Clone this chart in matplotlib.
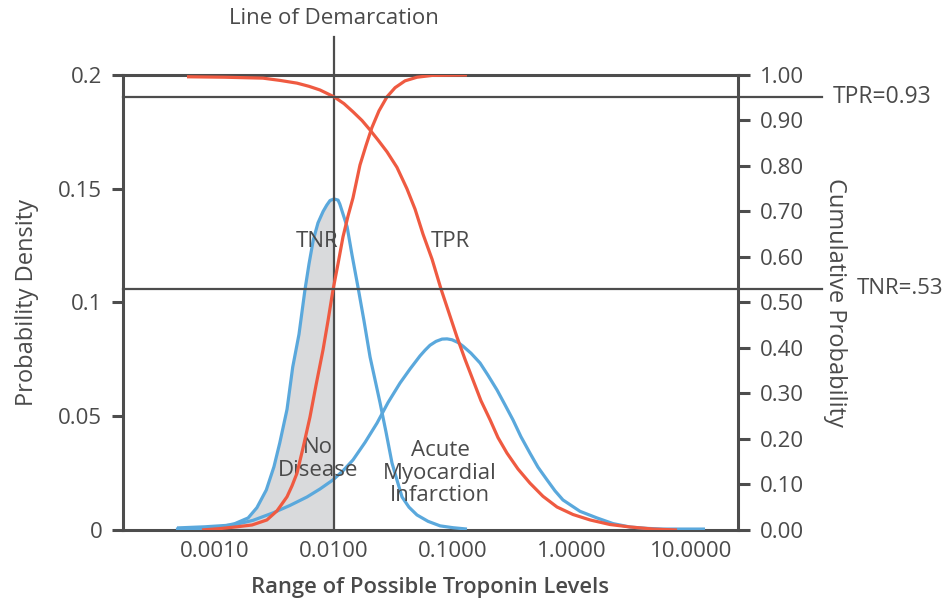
import matplotlib
matplotlib.use('Agg')
import numpy as np
import matplotlib.pyplot as plt
from matplotlib.ticker import FixedLocator, NullLocator

plt.rcParams['font.family'] = ['Open Sans', 'DejaVu Sans']

# --- Dados ---
# Densidade "No Disease" (eixo esquerdo)
trop_sem_doenca = [0.00047, 0.0008, 0.0011, 0.00147, 0.0019, 0.00225, 0.0027, 0.00313,
                   0.0035, 0.00403, 0.0045, 0.00508, 0.0057, 0.00617, 0.0067, 0.00734,
                   0.0081, 0.0087, 0.00926, 0.0100, 0.01081, 0.0112, 0.0129, 0.01416,
                   0.0159, 0.01786, 0.0201, 0.02213, 0.0244, 0.02737, 0.0307, 0.0338,
                   0.0373, 0.0427, 0.0498, 0.0617, 0.078, 0.100, 0.131]
dens_sem_doenca = [0.0004, 0.0007, 0.0013, 0.0028, 0.0053, 0.0098, 0.0176, 0.0278,
                   0.0382, 0.0530, 0.0716, 0.0860, 0.1055, 0.1170, 0.1275, 0.1350,
                   0.1400, 0.1428, 0.1448, 0.1455, 0.1450, 0.1432, 0.1332, 0.1210,
                   0.1068, 0.0920, 0.0760, 0.0660, 0.0558, 0.0430, 0.0295, 0.0220,
                   0.0145, 0.0100, 0.0066, 0.0038, 0.0018, 0.0010, 0.0004]

# Densidade "Acute Myocardial Infarction" (eixo esquerdo)
trop_iam = [0.00048, 0.000824, 0.00142, 0.00208, 0.00307, 0.00427, 0.00593, 0.00762,
            0.0098, 0.0119, 0.01445, 0.01824, 0.0230, 0.02844, 0.0359, 0.0436, 0.0528,
            0.0582, 0.0641, 0.0720, 0.0809, 0.0891, 0.0982, 0.1102, 0.1213, 0.1416,
            0.1687, 0.1968, 0.2345, 0.2735, 0.319, 0.3722, 0.443, 0.5176, 0.617, 0.7196,
            0.839, 1.167, 1.62, 2.211, 3.07, 4.27, 5.82, 13.1]
dens_iam = [0.0009, 0.0014, 0.0022, 0.0042, 0.0075, 0.0108, 0.0145, 0.0180,
            0.0220, 0.0260, 0.0308, 0.0385, 0.0470, 0.0560, 0.0646, 0.0708, 0.0765,
            0.0790, 0.0812, 0.0829, 0.0839, 0.0840, 0.0836, 0.0824, 0.0808, 0.0777,
            0.0734, 0.0680, 0.0615, 0.0550, 0.0484, 0.0410, 0.0338, 0.0276, 0.0220, 0.0172,
            0.0132, 0.0082, 0.0053, 0.0028, 0.0013, 0.0007, 0.0004, 0.0004]

# Probabilidade acumulada TNR (eixo direito)
trop_tnr = [0.000778, 0.0011, 0.00153, 0.00205, 0.00273, 0.00332, 0.00403, 0.00444,
            0.00489, 0.00549, 0.00628, 0.00706, 0.00809, 0.00891, 0.0098, 0.01081,
            0.0119, 0.01312, 0.01445, 0.01653, 0.01858, 0.0208, 0.02387, 0.0279,
            0.0326, 0.0395, 0.0498, 0.0667, 0.131]
cum_tnr = [0.000, 0.003, 0.007, 0.011, 0.022, 0.042, 0.073, 0.097,
           0.125, 0.180, 0.248, 0.318, 0.396, 0.460, 0.527, 0.585,
           0.644, 0.690, 0.730, 0.802, 0.845, 0.884, 0.921, 0.952,
           0.972, 0.987, 0.995, 0.999, 1.000]

# Probabilidade acumulada TPR (eixo direito)
trop_tpr = [0.000582, 0.00121, 0.00253, 0.00352, 0.00489, 0.00617, 0.00762, 0.0100,
            0.01213, 0.01445, 0.01718, 0.0201, 0.02344, 0.0279, 0.0338, 0.0410,
            0.0480, 0.0560, 0.0667, 0.0792, 0.0925, 0.108, 0.1262, 0.147, 0.1718,
            0.205, 0.2388, 0.284, 0.3516, 0.443, 0.570, 0.748, 1.019, 1.42, 2.085,
            3.07, 4.80, 7.63]
cum_tpr = [0.996, 0.995, 0.993, 0.988, 0.982, 0.975, 0.967, 0.952,
           0.937, 0.919, 0.900, 0.879, 0.857, 0.831, 0.797, 0.750,
           0.705, 0.650, 0.595, 0.530, 0.477, 0.424, 0.375, 0.330, 0.284,
           0.242, 0.203, 0.169, 0.134, 0.103, 0.074, 0.0505, 0.034, 0.022, 0.012,
           0.0066, 0.002, 0.000]

LINHA_DEMARCACAO = 0.01
LINHA_TPR = 0.952
LINHA_TNR = 0.53

x_ticks = [0.001, 0.01, 0.1, 1, 10]
x_tick_labels = ['0.0010', '0.0100', '0.1000', '1.0000', '10.0000']
y_esq_ticks = [0, 0.05, 0.1, 0.15, 0.2]
y_esq_labels = ['0', '0.05', '0.1', '0.15', '0.2']
y_dir_ticks = [0.0, 0.1, 0.2, 0.3, 0.4, 0.5, 0.6, 0.7, 0.8, 0.9, 1.0]
y_dir_labels = ['%.2f' % v for v in y_dir_ticks]

# --- Estilo ---
AZUL = '#5aa8dc'
VERMELHO = '#ef5a41'
CINZA_EIXO = '#4d4d4d'
CINZA_TEXTO = '#4a4a4a'
CINZA_AREA = '#d9dadc'

fig = plt.figure(figsize=(9.51, 6.03), dpi=100)
ax = fig.add_axes([0.1293, 0.1211, 0.6467, 0.7546])
ax2 = ax.twinx()

ax.set_xscale('log')
ax.set_xlim(1.686e-4, 24.8)
ax.set_ylim(0, 0.2)
ax2.set_ylim(0, 1)

# area sombreada (TNR) ate a linha de demarcacao
x_nd = np.array(trop_sem_doenca)
y_nd = np.array(dens_sem_doenca)
mask = x_nd <= LINHA_DEMARCACAO
ax.fill_between(x_nd[mask], 0, y_nd[mask], color=CINZA_AREA, lw=0, zorder=1)

estilo_curva = dict(lw=2.3, zorder=3, solid_joinstyle='round', solid_capstyle='butt')
ax.plot(trop_sem_doenca, dens_sem_doenca, color=AZUL, **estilo_curva)
ax.plot(trop_iam, dens_iam, color=AZUL, **estilo_curva)
ax2.plot(trop_tnr, cum_tnr, color=VERMELHO, **estilo_curva)
ax2.plot(trop_tpr, cum_tpr, color=VERMELHO, **estilo_curva)

# linhas de referencia
ax.plot([LINHA_DEMARCACAO, LINHA_DEMARCACAO], [0, 1.083], transform=ax.get_xaxis_transform(),
        color=CINZA_EIXO, lw=1.6, clip_on=False, zorder=4)
for v in (LINHA_TPR, LINHA_TNR):
    ax2.plot([0, 1.137], [v, v], transform=ax2.get_yaxis_transform(),
             color=CINZA_EIXO, lw=1.6, clip_on=False, zorder=4)

# --- Eixos ---
for lado in ['left', 'top', 'bottom']:
    ax.spines[lado].set_color(CINZA_EIXO)
    ax.spines[lado].set_linewidth(2.2)
    ax2.spines[lado].set_visible(False)
ax.spines['right'].set_visible(False)
ax2.spines['right'].set_color(CINZA_EIXO)
ax2.spines['right'].set_linewidth(2.2)

ax.xaxis.set_major_locator(FixedLocator(x_ticks))
ax.xaxis.set_minor_locator(NullLocator())
ax.set_xticklabels(x_tick_labels)
ax.set_yticks(y_esq_ticks)
ax.set_yticklabels(y_esq_labels)
ax2.set_yticks(y_dir_ticks)
ax2.set_yticklabels(y_dir_labels)

ax.tick_params(axis='x', length=0, pad=8, labelsize=16, labelcolor=CINZA_TEXTO)
ax.tick_params(axis='y', length=8, width=2.2, color=CINZA_EIXO, pad=7,
               labelsize=16, labelcolor=CINZA_TEXTO)
ax2.tick_params(axis='y', length=8.6, width=2.2, color=CINZA_EIXO, pad=7,
                labelsize=16, labelcolor=CINZA_TEXTO)

# --- Textos ---
ax.text(-0.156, 0.5, 'Probability Density', rotation=90, transform=ax.transAxes,
        ha='center', va='center', fontsize=17, color=CINZA_TEXTO)
ax2.text(1.158, 0.5, 'Cumulative Probability', rotation=-90, transform=ax2.transAxes,
         ha='center', va='center', fontsize=17, color=CINZA_TEXTO)
ax.text(0.499, -0.127, 'Range of Possible Troponin Levels', transform=ax.transAxes,
        ha='center', va='center', fontsize=15.8, fontweight='semibold', color=CINZA_TEXTO)
ax.text(LINHA_DEMARCACAO, 1.125, 'Line of Demarcation', transform=ax.get_xaxis_transform(),
        ha='center', va='center', fontsize=16, color=CINZA_TEXTO)
ax2.text(1.154, LINHA_TPR, 'TPR=0.93', transform=ax2.get_yaxis_transform(),
         ha='left', va='center', fontsize=16.5, color=CINZA_TEXTO)
ax2.text(1.193, LINHA_TNR, 'TNR=.53', transform=ax2.get_yaxis_transform(),
         ha='left', va='center', fontsize=16, color=CINZA_TEXTO)

ax.text(0.00719, 0.635, 'TNR', transform=ax.get_xaxis_transform(),
        ha='center', va='center', fontsize=16, color=CINZA_TEXTO, zorder=5)
ax.text(0.0944, 0.635, 'TPR', transform=ax.get_xaxis_transform(),
        ha='center', va='center', fontsize=16, color=CINZA_TEXTO, zorder=5)
ax.text(0.0073, 0.156, 'No\nDisease', transform=ax.get_xaxis_transform(),
        ha='center', va='center', fontsize=16, color=CINZA_TEXTO, linespacing=1.1, zorder=5)
ax.text(0.0778, 0.125, 'Acute\nMyocardial\nInfarction', transform=ax.get_xaxis_transform(),
        ha='center', va='center', fontsize=16, color=CINZA_TEXTO, linespacing=1.1, zorder=5)

fig.savefig('out.png', dpi=100)
